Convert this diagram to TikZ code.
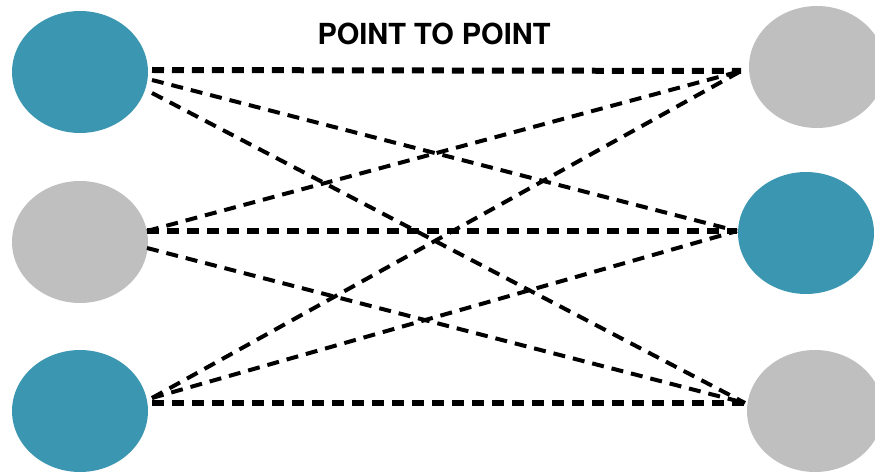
\documentclass[tikz,border=0pt]{standalone}
\usepackage{fontspec}
\setmainfont{TeX Gyre Heros}
\usetikzlibrary{shapes.geometric}
\definecolor{hostteal}{HTML}{3A96B1}
\definecolor{hostgrey}{HTML}{BFBFBF}
\tikzset{
  host/.style={ellipse,minimum width=2.72cm,minimum height=2.44cm,inner sep=0pt},
  link/.style={dash pattern=on 0.24cm off 0.16cm}
}

\begin{document}
\begin{tikzpicture}[x=0.02cm,y=-0.02cm]
  \useasboundingbox (0,0) rectangle (875,476);
  \clip (0,0) rectangle (875,476);
  % stations
  \foreach \n/\x/\y/\c in {a1/80/72/hostteal, a2/80/242/hostgrey, a3/80/411/hostteal,
                           b1/817/67/hostgrey, b2/806/233/hostteal, b3/815/411/hostgrey}{
    \node[host,fill=\c] (\n) at (\x,\y) {};
  }
  % where the links leave and meet the stations
  \foreach \n/\x/\y in {pa1/152/70, pa2/147/231, pa3/152/403,
                        pb1/741/71, pb2/737/231, pb3/745/403}{
    \coordinate (\n) at (\x,\y);
  }
  % every left station to every right station
  \foreach \i/\j/\s/\w in {1/1/0/0.12, 1/2/-0.2/0.08, 1/3/-0.46/0.08,
                           2/1/0/0.08, 2/2/0/0.12, 2/3/-0.34/0.08,
                           3/1/0.1/0.08, 3/2/0.1/0.08, 3/3/0/0.12}{
    \draw[link,line width=\w cm] ([yshift=\s cm]pa\i) -- (pb\j);
  }
  \node[font=\bfseries\fontsize{16.5}{18}\selectfont] (title) at (434,34) {POINT TO POINT};
\end{tikzpicture}
\end{document}
